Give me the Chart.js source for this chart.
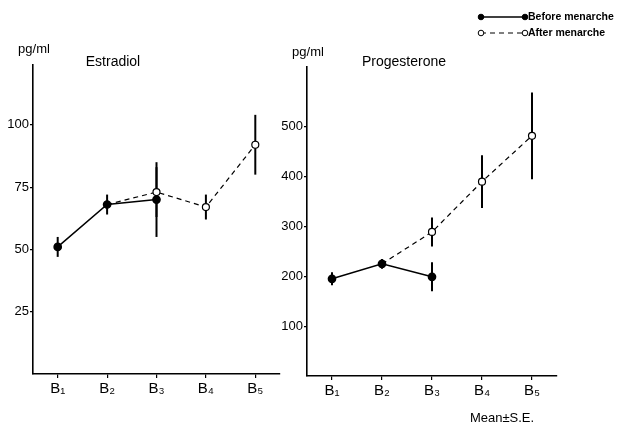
<!DOCTYPE html>
<html>
<head>
<meta charset="utf-8">
<script src="https://cdn.jsdelivr.net/npm/chart.js@4"></script>
<style>
  html, body { margin: 0; background: #fff; }
  #wrap { position: relative; width: 619px; height: 426px; }
  canvas { position: absolute; top: 0; }
</style>
</head>
<body>
<div id="wrap">
  <canvas id="estradiol" width="290" height="426" style="left:0;width:290px;height:426px"></canvas>
  <canvas id="progesterone" width="359" height="426" style="left:260px;width:359px;height:426px"></canvas>
</div>
<script>
// Pubertal stages
const stages = ['B\u2081', 'B\u2082', 'B\u2083', 'B\u2084', 'B\u2085'];

// Estradiol (pg/ml), mean and S.E.
const estBefore   = [51, 68, 70, null, null];
const estBeforeSE = [4, 4, 15, null, null];
const estAfter    = [null, 68, 73, 67, 92];
const estAfterSE  = [null, 0, 10, 5, 12];
const estTicks    = [25, 50, 75, 100];

// Progesterone (pg/ml), mean and S.E.
const progBefore   = [195, 225, 199, null, null];
const progBeforeSE = [13, 10, 29, null, null];
const progAfter    = [null, 225, 289, 390, 482];
const progAfterSE  = [null, 0, 29, 53, 87];
const progTicks    = [100, 200, 300, 400, 500];

const FONT = "'Liberation Sans', Arial, sans-serif";
Chart.defaults.color = '#000';
Chart.defaults.font.family = FONT;

// vertical S.E. bars, drawn under the markers
const errorBars = {
  id: 'errorBars',
  beforeDatasetsDraw(chart) {
    const { ctx, scales: { x, y } } = chart;
    ctx.save();
    ctx.strokeStyle = '#000';
    ctx.lineWidth = 2;
    chart.data.datasets.forEach(ds => {
      ds.data.forEach((v, i) => {
        const se = ds.se[i];
        if (v == null || !se) return;
        const px = x.getPixelForValue(i);
        ctx.beginPath();
        ctx.moveTo(px, y.getPixelForValue(v - se));
        ctx.lineTo(px, y.getPixelForValue(v + se));
        ctx.stroke();
      });
    });
    ctx.restore();
  }
};

// free texts + the little legend
const extras = {
  id: 'extras',
  afterDraw(chart, args, opts) {
    const ctx = chart.ctx;
    ctx.save();
    ctx.fillStyle = '#000';
    ctx.textBaseline = 'middle';
    (opts.texts || []).forEach(t => {
      ctx.font = t.font;
      ctx.textAlign = t.align || 'center';
      ctx.fillText(t.text, t.x, t.y);
    });
    if (opts.legend) {
      const L = opts.legend;
      chart.data.datasets.forEach((ds, k) => {
        const y = L.y + k * L.gap;
        ctx.strokeStyle = '#000';
        ctx.lineWidth = ds.borderWidth;
        ctx.setLineDash(ds.borderDash || []);
        ctx.beginPath();
        ctx.moveTo(L.x0, y);
        ctx.lineTo(L.x1, y);
        ctx.stroke();
        ctx.setLineDash([]);
        [L.x0, L.x1].forEach(px => {
          ctx.beginPath();
          ctx.arc(px, y, 2.8, 0, Math.PI * 2);
          ctx.fillStyle = ds.pointBackgroundColor;
          ctx.fill();
          ctx.lineWidth = 1;
          ctx.stroke();
        });
        ctx.fillStyle = '#000';
        ctx.font = 'bold 10.5px ' + FONT;
        ctx.textAlign = 'left';
        ctx.fillText(ds.label, L.x1 + 3, y);
      });
    }
    ctx.restore();
  }
};

function makeChart(id, before, beforeSE, after, afterSE, yMax, yTicks, layout, texts, legend) {
  new Chart(document.getElementById(id), {
    type: 'line',
    data: {
      labels: stages,
      datasets: [{
        label: 'Before menarche',
        data: before,
        se: beforeSE,
        borderColor: '#000',
        borderWidth: 1.5,
        pointRadius: 3.6,
        pointBackgroundColor: '#000',
        pointBorderColor: '#000',
        spanGaps: false
      }, {
        label: 'After menarche',
        data: after,
        se: afterSE,
        borderColor: '#000',
        borderWidth: 1.2,
        borderDash: [5, 4],
        // the shared starting point is drawn by the "before" series
        pointRadius: after.map((v, i) => v === before[i] ? 0 : 3.5),
        pointBackgroundColor: '#fff',
        pointBorderColor: '#000',
        pointBorderWidth: 1.2
      }]
    },
    options: {
      responsive: false,
      devicePixelRatio: 1,
      animation: false,
      layout: { padding: layout.padding },
      plugins: {
        legend: { display: false },
        tooltip: { enabled: false },
        extras: { texts: texts, legend: legend }
      },
      scales: {
        x: {
          offset: true,
          afterFit: s => { s.height = layout.xHeight; },
          grid: { drawOnChartArea: false, tickLength: 4, color: '#000', lineWidth: 1.2 },
          border: { display: true, color: '#000', width: 1.6 },
          ticks: { padding: 2, font: { size: 15 } }
        },
        y: {
          min: 0,
          max: yMax,
          afterFit: s => { s.width = layout.yWidth; },
          afterBuildTicks: s => { s.ticks = yTicks.map(v => ({ value: v })); },
          grid: { drawOnChartArea: false, tickLength: 3, color: '#000', lineWidth: 1.2 },
          border: { display: true, color: '#000', width: 1.6 },
          ticks: { padding: 1, font: { size: 13 } }
        }
      }
    },
    plugins: [errorBars, extras]
  });
}

makeChart('estradiol', estBefore, estBeforeSE, estAfter, estAfterSE, 124, estTicks,
  { padding: { top: 65, right: 10, left: 0, bottom: 0 }, yWidth: 33, xHeight: 52 },
  [
    { text: 'pg/ml', x: 34, y: 49, font: '13px ' + FONT },
    { text: 'Estradiol', x: 113, y: 62, font: '14px ' + FONT }
  ], null);

makeChart('progesterone', progBefore, progBeforeSE, progAfter, progAfterSE, 620, progTicks,
  { padding: { top: 67, right: 62, left: 0, bottom: 0 }, yWidth: 47, xHeight: 50 },
  [
    { text: 'pg/ml', x: 48, y: 52, font: '13px ' + FONT },
    { text: 'Progesterone', x: 144, y: 62, font: '14px ' + FONT },
    { text: 'Mean\u00b1S.E.', x: 242, y: 418, font: '13px ' + FONT }
  ],
  { x0: 221, x1: 265, y: 17, gap: 16 });
</script>
</body>
</html>
